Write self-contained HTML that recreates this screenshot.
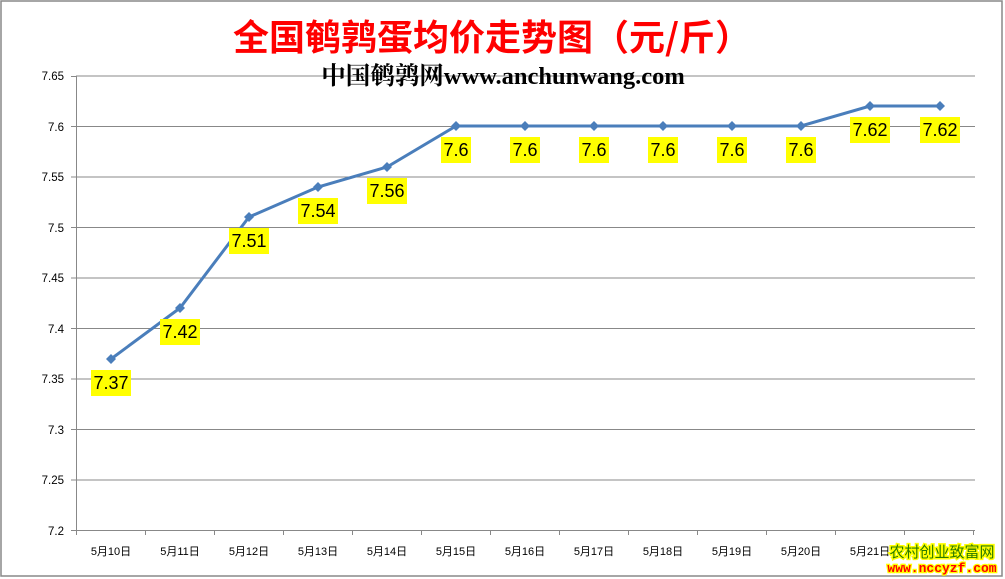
<!DOCTYPE html>
<html><head><meta charset="utf-8"><style>
body{margin:0;background:#fff}
svg{display:block}
</style></head><body>
<svg width="1005" height="579" xmlns="http://www.w3.org/2000/svg" font-family="Liberation Sans, Noto Sans CJK SC, sans-serif">
<rect x="1" y="1" width="1001" height="575" fill="#fff" stroke="#888" stroke-width="1.5"/>
<text x="492" y="50" text-anchor="middle" font-size="36" font-weight="bold" fill="#ff0000" font-family="Noto Sans CJK SC, sans-serif">全国鹌鹑蛋均价走势图（元/斤）</text>
<g stroke="#888" stroke-width="1">
<line x1="76" y1="76" x2="975" y2="76"/>
<line x1="76" y1="126.5" x2="975" y2="126.5"/>
<line x1="76" y1="177" x2="975" y2="177"/>
<line x1="76" y1="227.5" x2="975" y2="227.5"/>
<line x1="76" y1="278" x2="975" y2="278"/>
<line x1="76" y1="328.5" x2="975" y2="328.5"/>
<line x1="76" y1="379" x2="975" y2="379"/>
<line x1="76" y1="429.5" x2="975" y2="429.5"/>
<line x1="76" y1="480" x2="975" y2="480"/>
<line x1="76" y1="530.5" x2="975" y2="530.5"/>
<line x1="76.5" y1="76" x2="76.5" y2="531"/>
</g>
<g stroke="#888">
<path d="M76.5 530v5M145.5 530v5M214.5 530v5M283.5 530v5M352.5 530v5M421.5 530v5M490.5 530v5M559.5 530v5M628.5 530v5M697.5 530v5M766.5 530v5M835.5 530v5M904.5 530v5M973.5 530v5M71 76.5h5M71 126.5h5M71 177h5M71 227.5h5M71 278h5M71 328.5h5M71 379h5M71 429.5h5M71 480h5M71 530.5h5"/>
</g>
<g font-size="11.5" text-anchor="end" fill="#000">
<text x="64" y="80">7.65</text><text x="64" y="131">7.6</text><text x="64" y="181">7.55</text>
<text x="64" y="232">7.5</text><text x="64" y="282">7.45</text><text x="64" y="333">7.4</text>
<text x="64" y="383">7.35</text><text x="64" y="434">7.3</text><text x="64" y="484">7.25</text><text x="64" y="535">7.2</text>
</g>
<g font-size="11" text-anchor="middle" fill="#000">
<text x="111" y="555">5月10日</text><text x="180" y="555">5月11日</text><text x="249" y="555">5月12日</text>
<text x="318" y="555">5月13日</text><text x="387" y="555">5月14日</text><text x="456" y="555">5月15日</text>
<text x="525" y="555">5月16日</text><text x="594" y="555">5月17日</text><text x="663" y="555">5月18日</text>
<text x="732" y="555">5月19日</text><text x="801" y="555">5月20日</text><text x="870" y="555">5月21日</text>
</g>
<text x="503" y="84" text-anchor="middle" font-size="24.5" font-weight="bold" fill="#000" font-family="Liberation Serif, Noto Serif CJK SC, serif">中国鹌鹑网www.anchunwang.com</text>
<polyline fill="none" stroke="#4a7ebb" stroke-width="3" points="111,359 180,308 249,217 318,187 387,167 456,126 525,126 594,126 663,126 732,126 801,126 870,106 940,106"/>
<g fill="#4a7ebb">
<path d="M111 354l5 5-5 5-5-5z"/><path d="M180 303l5 5-5 5-5-5z"/><path d="M249 212l5 5-5 5-5-5z"/><path d="M318 182l5 5-5 5-5-5z"/><path d="M387 162l5 5-5 5-5-5z"/><path d="M456 121l5 5-5 5-5-5z"/><path d="M525 121l5 5-5 5-5-5z"/><path d="M594 121l5 5-5 5-5-5z"/><path d="M663 121l5 5-5 5-5-5z"/><path d="M732 121l5 5-5 5-5-5z"/><path d="M801 121l5 5-5 5-5-5z"/><path d="M870 101l5 5-5 5-5-5z"/><path d="M940 101l5 5-5 5-5-5z"/>
</g>
<g font-size="18" text-anchor="middle" fill="#000">
<rect x="91" y="370" width="40" height="26" fill="#ffff00"/><text x="111" y="389">7.37</text>
<rect x="160" y="319" width="40" height="26" fill="#ffff00"/><text x="180" y="338">7.42</text>
<rect x="229" y="228" width="40" height="26" fill="#ffff00"/><text x="249" y="247">7.51</text>
<rect x="298" y="198" width="40" height="26" fill="#ffff00"/><text x="318" y="217">7.54</text>
<rect x="367" y="178" width="40" height="26" fill="#ffff00"/><text x="387" y="197">7.56</text>
<rect x="441" y="137" width="30" height="26" fill="#ffff00"/><text x="456" y="156">7.6</text>
<rect x="510" y="137" width="30" height="26" fill="#ffff00"/><text x="525" y="156">7.6</text>
<rect x="579" y="137" width="30" height="26" fill="#ffff00"/><text x="594" y="156">7.6</text>
<rect x="648" y="137" width="30" height="26" fill="#ffff00"/><text x="663" y="156">7.6</text>
<rect x="717" y="137" width="30" height="26" fill="#ffff00"/><text x="732" y="156">7.6</text>
<rect x="786" y="137" width="30" height="26" fill="#ffff00"/><text x="801" y="156">7.6</text>
<rect x="850" y="117" width="40" height="26" fill="#ffff00"/><text x="870" y="136">7.62</text>
<rect x="920" y="117" width="40" height="26" fill="#ffff00"/><text x="940" y="136">7.62</text>
</g>
<text x="942" y="557" text-anchor="middle" font-size="15" fill="#2a7a00" stroke="#ffff00" stroke-width="3" paint-order="stroke" font-family="Noto Sans CJK SC, sans-serif">农村创业致富网</text>
<text x="942" y="572" text-anchor="middle" font-size="13" font-weight="bold" fill="#ff0000" stroke="#ffff00" stroke-width="2.5" paint-order="stroke" font-family="Liberation Mono, monospace">www.nccyzf.com</text>
</svg>
</body></html>
